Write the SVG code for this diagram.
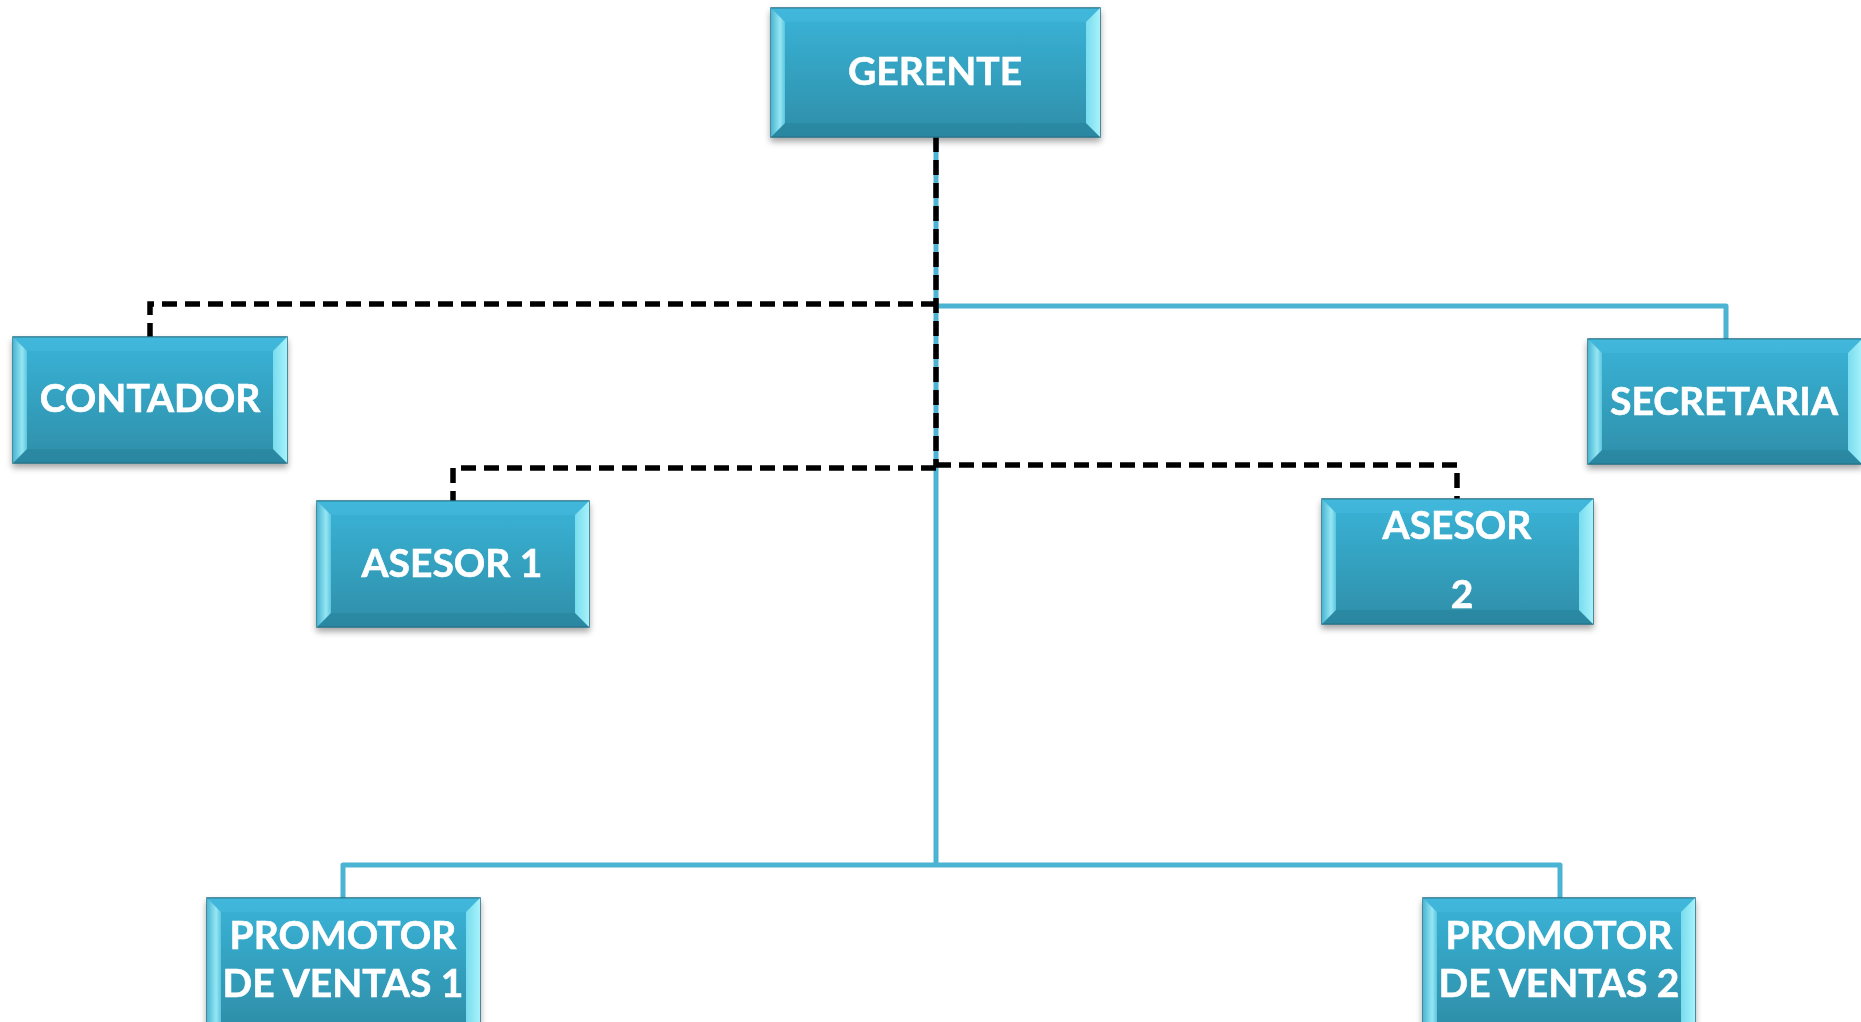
<svg xmlns="http://www.w3.org/2000/svg" width="1861" height="1022" viewBox="0 0 1861 1022">
<defs>
<linearGradient id="face" x1="0" y1="0" x2="0" y2="1">
<stop offset="0" stop-color="#3ab4d8"/>
<stop offset="1" stop-color="#2e8ea8"/>
</linearGradient>
<linearGradient id="lb" x1="0" y1="0" x2="1" y2="0">
<stop offset="0" stop-color="#48b6d3"/>
<stop offset="0.65" stop-color="#96e6f3"/>
<stop offset="1" stop-color="#5cc6df"/>
</linearGradient>
<linearGradient id="rb" x1="0" y1="0" x2="1" y2="0">
<stop offset="0" stop-color="#78dcee"/>
<stop offset="1" stop-color="#a6f2fb"/>
</linearGradient>
<filter id="sh" x="-10%" y="-10%" width="120%" height="130%">
<feDropShadow dx="0" dy="4" stdDeviation="3" flood-color="#000" flood-opacity="0.35"/>
</filter>
</defs>
<style>
.face{fill:url(#face);stroke:#1f6c82;stroke-width:1.5}
.tb{fill:#46bde0;opacity:0.45}
.bb{fill:#27809a;opacity:0.5}
.lb{fill:url(#lb)}
.rb{fill:url(#rb)}
.t{font-family:Lato,"Open Sans","Liberation Sans",sans-serif;font-weight:bold;font-size:39px;fill:#fff;stroke:#fff;stroke-width:0.6;text-anchor:middle}
.blue{fill:none;stroke:#4cb4d3;stroke-width:5;stroke-linejoin:round}
.dash{fill:none;stroke:#000;stroke-width:5.5;stroke-dasharray:15 8}
</style>
<rect width="1861" height="1022" fill="#fff"/>
<g id="connectors">
<path class="blue" d="M936 137 V865 M936 306 H1726 V339 M343 898 V865 H1560 V898"/>
<path class="dash" d="M936 137 V467"/>
<path class="dash" d="M936 304 H150 V337"/>
<path class="dash" d="M936 468 H453 V501"/>
<path class="dash" d="M936 465 H1457 V499"/>
</g>
<g id="gerente" filter="url(#sh)">
<rect class="face" x="771" y="8" width="329" height="129"/>
<polygon class="tb" points="771,8 1100,8 1086,22 785,22"/>
<polygon class="bb" points="771,137 1100,137 1086,123 785,123"/>
<polygon class="lb" points="771,8 785,22 785,123 771,137"/>
<polygon class="rb" points="1100,8 1086,22 1086,123 1100,137"/>
<text class="t" x="935" y="85">GERENTE</text>
</g>
<g id="contador" filter="url(#sh)">
<rect class="face" x="13" y="337" width="274" height="126"/>
<polygon class="tb" points="13,337 287,337 273,351 27,351"/>
<polygon class="bb" points="13,463 287,463 273,449 27,449"/>
<polygon class="lb" points="13,337 27,351 27,449 13,463"/>
<polygon class="rb" points="287,337 273,351 273,449 287,463"/>
<text class="t" x="150" y="412">CONTADOR</text>
</g>
<g id="secretaria" filter="url(#sh)">
<rect class="face" x="1588" y="339" width="274" height="125"/>
<polygon class="tb" points="1588,339 1862,339 1848,353 1602,353"/>
<polygon class="bb" points="1588,464 1862,464 1848,450 1602,450"/>
<polygon class="lb" points="1588,339 1602,353 1602,450 1588,464"/>
<polygon class="rb" points="1862,339 1848,353 1848,450 1862,464"/>
<text class="t" x="1724" y="415">SECRETARIA</text>
</g>
<g id="asesor1" filter="url(#sh)">
<rect class="face" x="317" y="501" width="272" height="126"/>
<polygon class="tb" points="317,501 589,501 575,515 331,515"/>
<polygon class="bb" points="317,627 589,627 575,613 331,613"/>
<polygon class="lb" points="317,501 331,515 331,613 317,627"/>
<polygon class="rb" points="589,501 575,515 575,613 589,627"/>
<text class="t" x="452" y="577">ASESOR 1</text>
</g>
<g id="asesor2" filter="url(#sh)">
<rect class="face" x="1322" y="499" width="271" height="125"/>
<polygon class="tb" points="1322,499 1593,499 1579,513 1336,513"/>
<polygon class="bb" points="1322,624 1593,624 1579,610 1336,610"/>
<polygon class="lb" points="1322,499 1336,513 1336,610 1322,624"/>
<polygon class="rb" points="1593,499 1579,513 1579,610 1593,624"/>
<text class="t" x="1457" y="539">ASESOR</text>
<text class="t" x="1462" y="608">2</text>
</g>
<g id="promotor1" filter="url(#sh)">
<rect class="face" x="207" y="898" width="273" height="130"/>
<polygon class="tb" points="207,898 480,898 466,912 221,912"/>
<polygon class="lb" points="207,898 221,912 221,1028 207,1028"/>
<polygon class="rb" points="480,898 466,912 466,1028 480,1028"/>
<text class="t" x="343" y="949">PROMOTOR</text>
<text class="t" x="343" y="997">DE VENTAS 1</text>
</g>
<g id="promotor2" filter="url(#sh)">
<rect class="face" x="1423" y="898" width="272" height="130"/>
<polygon class="tb" points="1423,898 1695,898 1681,912 1437,912"/>
<polygon class="lb" points="1423,898 1437,912 1437,1028 1423,1028"/>
<polygon class="rb" points="1695,898 1681,912 1681,1028 1695,1028"/>
<text class="t" x="1559" y="949">PROMOTOR</text>
<text class="t" x="1559" y="997">DE VENTAS 2</text>
</g>
</svg>
